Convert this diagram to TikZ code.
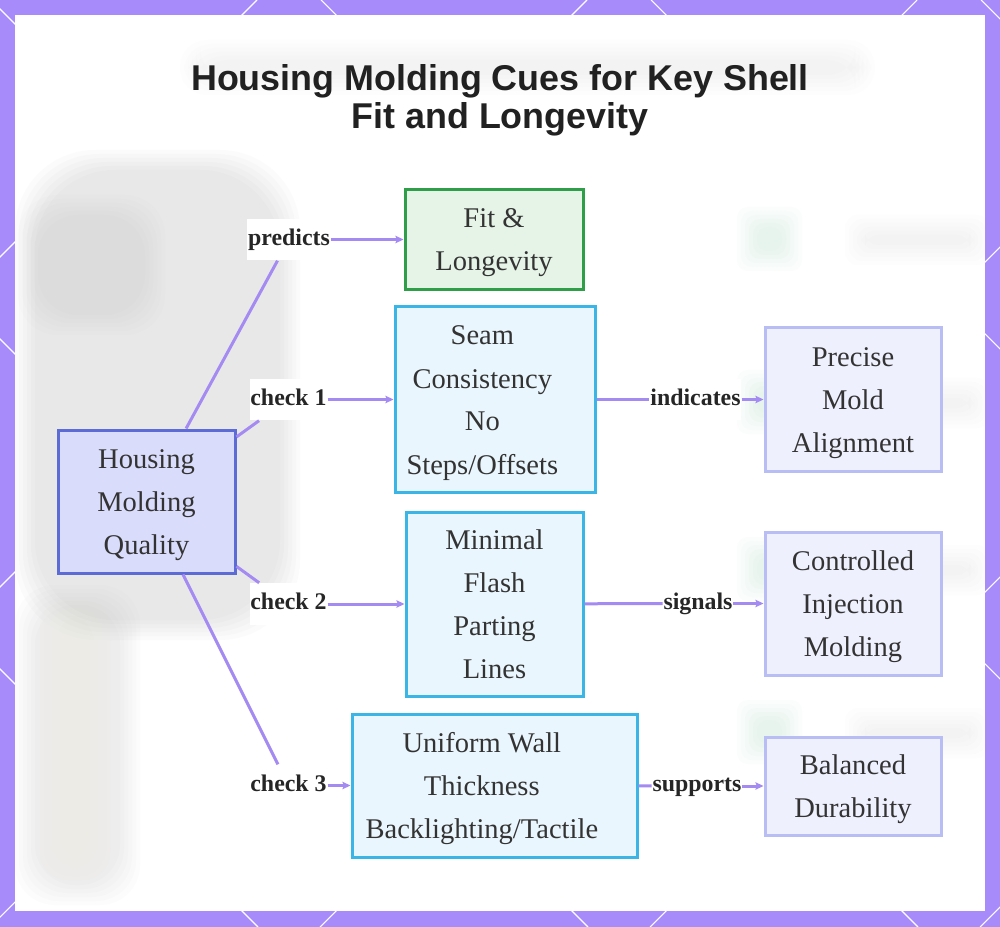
\documentclass[tikz,border=0pt]{standalone}
\usepackage{fontspec}
\setmainfont{Liberation Serif}
\newfontfamily\titlefont{Liberation Sans}
\usetikzlibrary{arrows.meta}

\definecolor{bordc}{HTML}{A78BFA}
\definecolor{linkc}{HTML}{A48BF2}
\definecolor{txtc}{HTML}{333333}
\definecolor{hubfill}{HTML}{D9DCFA}
\definecolor{hubdraw}{HTML}{5C6BD6}
\definecolor{outfill}{HTML}{E6F4E8}
\definecolor{outdraw}{HTML}{2E9E48}
\definecolor{cuefill}{HTML}{EAF6FD}
\definecolor{cuedraw}{HTML}{3BB5E6}
\definecolor{resfill}{HTML}{EEF0FD}
\definecolor{resdraw}{HTML}{B8BEF4}
\definecolor{ghostgreen}{HTML}{78C896}
\definecolor{ghostcream}{HTML}{F2EBC8}

% soft, blurred looking patch: colour, corner radius, corners
\newcommand{\blurbox}[6]{%
  \foreach \i in {0,...,5}
    \fill[#1, opacity=0.027, rounded corners=#2] (#3+\i*4,#4+\i*4) rectangle (#5-\i*4,#6-\i*4);}
% line struts for the box texts
\newcommand{\topstrut}{\rule{0pt}{24pt}}
\newcommand{\botstrut}{\rule[-9pt]{0pt}{9pt}}
% trailing room, pushes a centred line to the left
\newcommand{\pad}{\hspace*{19pt}\mbox{}}

\begin{document}
\begin{tikzpicture}[x=0.75pt,y=-0.75pt,
  box/.style={draw, line width=2.25pt, align=center, inner sep=0pt, text=txtc,
    font=\fontsize{21.4}{32.25}\selectfont},
  hub/.style={box, draw=hubdraw, fill=hubfill},
  outcome/.style={box, draw=outdraw, fill=outfill},
  cue/.style={box, draw=cuedraw, fill=cuefill},
  result/.style={box, draw=resdraw, fill=resfill},
  lbl/.style={fill=white, inner xsep=0.5pt, inner ysep=7.5pt, text height=12.5pt,
    text depth=3.9pt, text=black!85, font=\bfseries\fontsize{17.9}{20}\selectfont},
  link/.style={draw=linkc, line width=2.25pt},
  arr/.style={link, -{Stealth[length=6pt,width=5.5pt,inset=1pt]}}]

	% frame with its lattice
	\fill[bordc] (0,0) rectangle (1000,927);
	\begin{scope}
		\clip (0,0) rectangle (1000,927);
		\foreach \c in {-73,257,...,2000} \draw[white, line width=0.8pt] (\c,0) -- (\c-927,927);
		\foreach \d in {-999,-669,...,1000} \draw[white, line width=0.8pt] (\d,0) -- (\d+927,927);
	\end{scope}
	\fill[white] (15,15) rectangle (985,911);

	% faded photo behind the chart
	\blurbox{gray}{60pt}{15}{150}{300}{640}
	\blurbox{gray!60}{30pt}{18}{195}{165}{335}
	\blurbox{gray!70}{30pt}{15}{585}{140}{905}
	\blurbox{ghostcream}{20pt}{40}{600}{110}{880}
	\blurbox{gray!40}{20pt}{180}{40}{875}{95}
	\foreach \y in {207,370,537,700} {
		\blurbox{ghostgreen}{8pt}{737}{\y}{802}{\y+64}
		\blurbox{gray!50}{10pt}{845}{\y+8}{990}{\y+58}
	}

	% title
	\node[align=center, inner sep=0pt, text=black!87,
	  font=\titlefont\bfseries\fontsize{26.9}{28.5}\selectfont] (title) at (500,100)
	  {Housing Molding Cues for Key Shell\\Fit and Longevity};

	% boxes
	\node[hub, minimum width=132.75pt, minimum height=107.25pt] (hmq) at (146.5,501.5) {\topstrut Housing\\Molding\\Quality\botstrut};
	\node[outcome, minimum width=133.5pt, minimum height=75pt] (fit) at (494,239.5) {\topstrut Fit \&\\Longevity\botstrut};
	\node[cue, minimum width=150pt, minimum height=138.75pt] (seam) at (495,399.5) {\topstrut Seam\pad\\Consistency\pad\\No\pad\\Steps/Offsets\pad\botstrut};
	\node[cue, minimum width=132.75pt, minimum height=138pt] (flash) at (494.5,604) {\topstrut Minimal\\Flash\\Parting\\Lines\botstrut};
	\node[cue, minimum width=213.75pt, minimum height=107.25pt] (wall) at (494.5,785.5) {\topstrut Uniform Wall\pad\\Thickness\pad\\Backlighting/Tactile\pad\botstrut};
	\node[result, minimum width=132pt, minimum height=107.25pt] (align) at (853,399.5) {\topstrut Precise\\Mold\\Alignment\botstrut};
	\node[result, minimum width=132pt, minimum height=107.25pt] (inject) at (853,603.5) {\topstrut Controlled\\Injection\\Molding\botstrut};
	\node[result, minimum width=132pt, minimum height=73.5pt] (durab) at (853,786) {\topstrut Balanced\\Durability\botstrut};

	% edge labels
	\node[lbl] (lpred) at (289,239.5) {predicts};
	\node[lbl] (lchk1) at (288.5,399.5) {check 1};
	\node[lbl] (lchk2) at (288.5,604) {check 2};
	\node[lbl] (lchk3) at (288.5,785.5) {check 3};
	\node[lbl] (lind) at (695.5,399.5) {indicates};
	\node[lbl] (lsig) at (698,603.5) {signals};
	\node[lbl] (lsup) at (697,786) {supports};

	% connectors
	\draw[link] (hmq) -- (lpred);
	\draw[arr] (lpred) -- (fit);
	\draw[link] (hmq) -- (lchk1);
	\draw[arr] (lchk1) -- (seam);
	\draw[link] (hmq) -- (lchk2);
	\draw[arr] (lchk2) -- (flash);
	\draw[link] (hmq) -- (lchk3);
	\draw[arr] (lchk3) -- (wall);
	\draw[link] (seam) -- (lind);
	\draw[arr] (lind) -- (align);
	\draw[link] (flash) -- (lsig);
	\draw[arr] (lsig) -- (inject);
	\draw[link] (wall) -- (lsup);
	\draw[arr] (lsup) -- (durab);
\end{tikzpicture}
\end{document}
